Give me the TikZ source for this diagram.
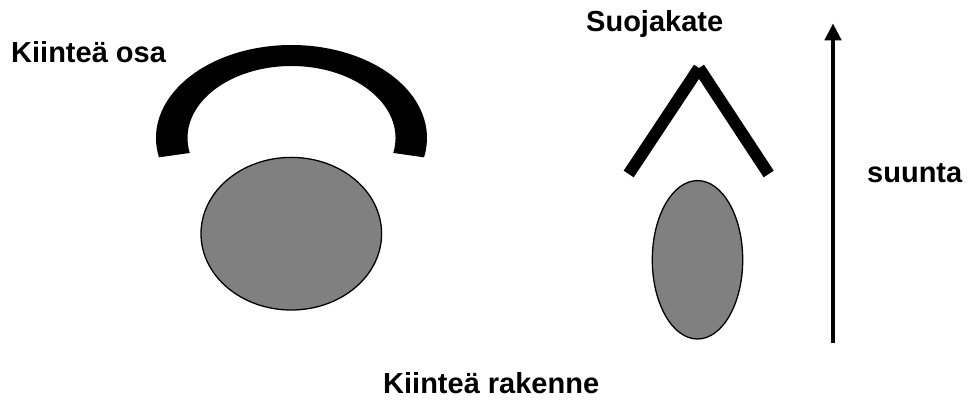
\documentclass[tikz,border=0pt]{standalone}
\usepackage{fontspec}
\setmainfont{Liberation Sans}
\usetikzlibrary{arrows.meta,calc}

\tikzset{
  teksti/.style={font=\bfseries\fontsize{29pt}{34pt}\selectfont, inner sep=0pt},
  kappale/.style={fill=gray, draw=black, line width=1.3pt},
  levy/.style={line width=12pt, line cap=butt},
  nuoli/.style={line width=4.3pt, -{Triangle[length=17pt,width=16pt]}}
}

\begin{document}
\begin{tikzpicture}[x=1pt,y=1pt]
  \useasboundingbox (0,0) rectangle (973,401);

  % kiintea osa ja rakenne
  \coordinate (kaari) at (291.5,263);
  \fill ($(kaari)+(192:135.5 and 93)$)
        arc[start angle=192, end angle=-12, x radius=135.5, y radius=93]
        -- ($(kaari)+(-12:104 and 72)$)
        arc[start angle=-12, end angle=192, x radius=104, y radius=72]
        -- cycle;
  \coordinate (iso) at (291.3,167.3);
  \draw[kappale] (iso) ellipse[x radius=90.3, y radius=76.3];

  % suojakate
  \coordinate (vasen) at (628.7,227);
  \coordinate (harja) at (699,333);
  \coordinate (oikea) at (768.7,227);
  \draw[levy] (vasen) -- (harja);
  \draw[levy] (harja) -- (oikea);
  \coordinate (pieni) at (697.5,141.2);
  \draw[kappale] (pieni) ellipse[x radius=45.2, y radius=79.2];

  % suunta
  \coordinate (ala) at (833,58);
  \coordinate (yla) at (833,377.7);
  \draw[nuoli] (ala) -- (yla);

  \node[teksti, anchor=base west] (osa) at (11,338) {Kiinteä osa};
  \node[teksti, anchor=base west] (kate) at (586,369) {Suojakate};
  \node[teksti, anchor=base west] (suunta) at (867,218) {suunta};
  \node[teksti, anchor=base west] (rakenne) at (383,8) {Kiinteä rakenne};
\end{tikzpicture}
\end{document}
